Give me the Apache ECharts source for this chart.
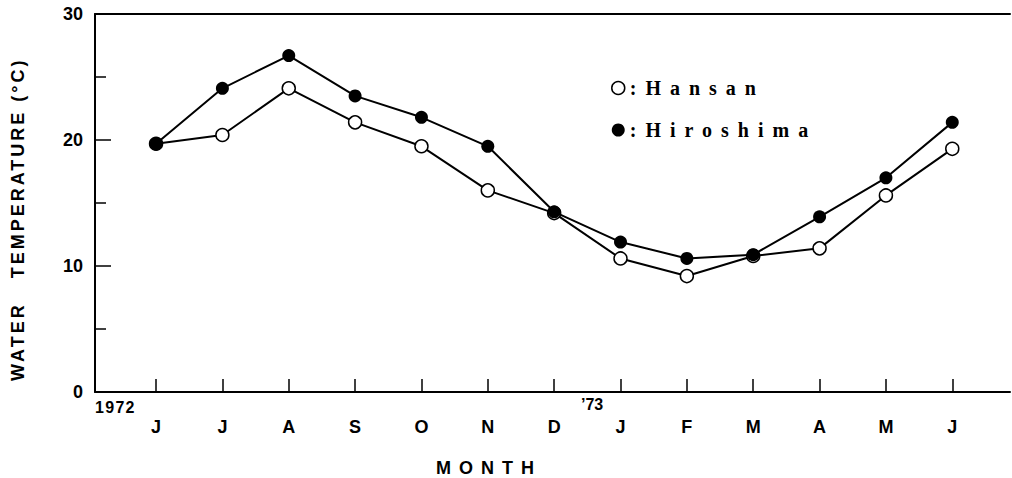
<!DOCTYPE html>
<html>
<head>
<meta charset="utf-8">
<script src="https://cdn.jsdelivr.net/npm/echarts@6/dist/echarts.min.js"></script>
<style>
  html, body { margin: 0; padding: 0; background: #fff; }
  #chart { width: 1012px; height: 478px; }
  #chart text { white-space: pre; }
</style>
</head>
<body>
<div id="chart"></div>
<script>
// ---- data ----
var months = ['J', 'J', 'A', 'S', 'O', 'N', 'D', 'J', 'F', 'M', 'A', 'M', 'J'];
var hansan = [19.7, 20.4, 24.1, 21.4, 19.5, 16.0, 14.2, 10.6, 9.2, 10.8, 11.4, 15.6, 19.3];
var hiroshima = [19.7, 24.1, 26.7, 23.5, 21.8, 19.5, 14.3, 11.9, 10.6, 10.9, 13.9, 17.0, 21.4];
var yTicks = [0, 10, 20, 30];

function pairs(arr) { return arr.map(function (v, i) { return [i, v]; }); }
var monthIdx = months.map(function (m, i) { return i; });

var SANS = '"Liberation Sans", Arial, sans-serif';
var SERIF = '"Liberation Serif", "DejaVu Serif", serif';

var chart = echarts.init(document.getElementById('chart'), null, { renderer: 'svg' });

var xCommon = {
  type: 'value',
  min: -0.92,
  max: 12.87,
  splitLine: { show: false }
};

chart.setOption({
  animation: false,
  backgroundColor: '#fff',
  grid: { left: 95, right: 2, top: 14, bottom: 86, containLabel: false },
  xAxis: [
    Object.assign({}, xCommon, {
      position: 'bottom',
      axisLine: { show: true, onZero: false, lineStyle: { color: '#000', width: 2 } },
      axisTick: { show: true, inside: true, length: 13, customValues: monthIdx, lineStyle: { color: '#000', width: 1.5 } },
      axisLabel: {
        show: true, customValues: monthIdx, margin: 26,
        formatter: function (v) { return months[Math.round(v)] || ''; },
        color: '#000', fontFamily: SANS, fontWeight: 'bold', fontSize: 18
      }
    }),
    Object.assign({}, xCommon, {
      position: 'top',
      axisLine: { show: true, onZero: false, lineStyle: { color: '#000', width: 2 } },
      axisTick: { show: false },
      axisLabel: { show: false }
    })
  ],
  yAxis: {
    type: 'value',
    min: yTicks[0],
    max: yTicks[yTicks.length - 1],
    interval: 10,
    splitLine: { show: false },
    axisLine: { show: true, onZero: false, lineStyle: { color: '#000', width: 2 } },
    axisTick: { show: true, inside: true, length: 16, lineStyle: { color: '#000', width: 1.5 } },
    minorTick: { show: true, splitNumber: 2, length: 11, lineStyle: { color: '#000', width: 1.5 } },
    axisLabel: { margin: 12, color: '#000', fontFamily: SANS, fontWeight: 'bold', fontSize: 18 }
  },
  legend: {
    orient: 'vertical',
    left: 606,
    top: 73,
    icon: 'circle',
    itemWidth: 13,
    itemHeight: 13,
    itemGap: 22,
    selectedMode: false,
    formatter: ':{name}',
    textStyle: { color: '#000', fontFamily: SERIF, fontWeight: 'bold', fontSize: 20, lineHeight: 20 },
    data: [
      { name: 'Hansan', itemStyle: { color: '#fff', borderColor: '#000', borderWidth: 1.5 } },
      { name: 'Hiroshima', itemStyle: { color: '#000', borderColor: '#000', borderWidth: 0 } }
    ]
  },
  graphic: [
    { type: 'text', x: 95, y: 399, silent: true,
      style: { text: '1972', fill: '#000', fontFamily: SANS, fontWeight: 'bold', fontSize: 16, align: 'left', verticalAlign: 'top' } },
    { type: 'text', x: 581, y: 396, silent: true,
      style: { text: '\u201973', fill: '#000', fontFamily: SANS, fontWeight: 'bold', fontSize: 16, align: 'left', verticalAlign: 'top' } },
    { type: 'text', x: 436, y: 468, silent: true,
      style: { text: 'MONTH', fill: '#000', fontFamily: SANS, fontWeight: 'bold', fontSize: 18, align: 'left', verticalAlign: 'middle' } },
    { type: 'text', x: 18, y: 381, rotation: Math.PI / 2, silent: true,
      style: { text: 'WATER   TEMPERATURE (\u00b0C)', fill: '#000', fontFamily: SANS, fontWeight: 'bold', fontSize: 18, align: 'left', verticalAlign: 'middle' } }
  ],
  series: [
    {
      name: 'Hansan',
      type: 'line',
      xAxisIndex: 0,
      data: pairs(hansan),
      symbol: 'circle',
      symbolSize: 13,
      showAllSymbol: true,
      lineStyle: { color: '#000', width: 2 },
      itemStyle: { color: '#fff', borderColor: '#000', borderWidth: 1.5 },
      emphasis: { disabled: true },
      z: 2
    },
    {
      name: 'Hiroshima',
      type: 'line',
      xAxisIndex: 0,
      data: pairs(hiroshima),
      symbol: 'circle',
      symbolSize: 13,
      showAllSymbol: true,
      lineStyle: { color: '#000', width: 2 },
      itemStyle: { color: '#000', borderColor: '#000', borderWidth: 0 },
      emphasis: { disabled: true },
      z: 3
    }
  ]
});

// letter spacing for the widely tracked labels (SVG renderer)
var spacing = {
  'WATER   TEMPERATURE (\u00b0C)': 3,
  'MONTH': 8,
  ':Hansan': 9,
  ':Hiroshima': 9,
  '1972': 1.3
};
function applySpacing() {
  var texts = document.querySelectorAll('#chart text');
  texts.forEach(function (t) {
    t.setAttributeNS('http://www.w3.org/XML/1998/namespace', 'xml:space', 'preserve');
    var s = spacing[t.textContent];
    if (s != null) t.setAttribute('letter-spacing', s);
  });
}
applySpacing();
chart.on('finished', applySpacing);
</script>
</body>
</html>
